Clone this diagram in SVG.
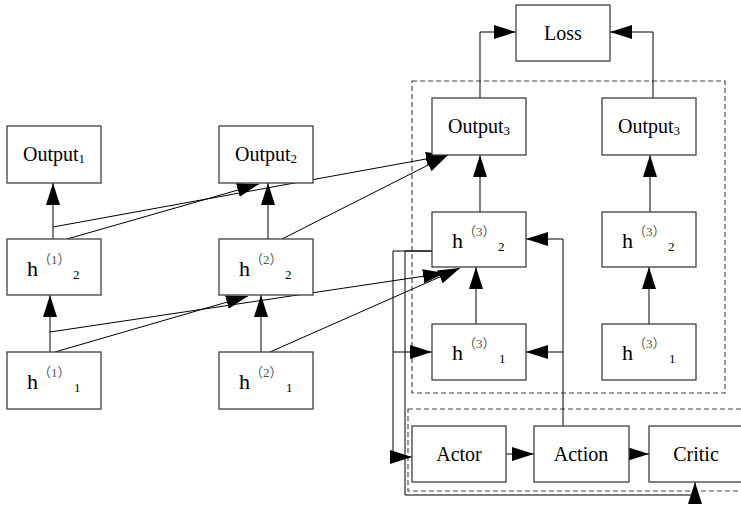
<svg xmlns="http://www.w3.org/2000/svg" width="741" height="508" viewBox="0 0 741 508">
<defs>
<marker id="ah" markerUnits="userSpaceOnUse" markerWidth="22" markerHeight="14" viewBox="0 0 22 14" refX="22" refY="7" orient="auto">
<path d="M0,0 L22,7 L0,14 z" fill="#000"/>
</marker>
<style>
.box{fill:#fff;stroke:#404040;stroke-width:1.3}
.dash{fill:none;stroke:#404040;stroke-width:1.1;stroke-dasharray:5,3}
.c{fill:none;stroke:#000;stroke-width:1;marker-end:url(#ah)}
.t{font-family:"Liberation Serif",serif;font-size:20px;fill:#000;text-anchor:middle}
.h{font-family:"Liberation Serif",serif;font-size:22px;fill:#000}
.sup{font-family:"Liberation Serif","Noto Sans CJK SC",serif;font-size:13px;fill:#555}
.sub{font-family:"Liberation Serif",serif;font-size:13px;fill:#000}
</style>
</defs>
<rect x="0" y="0" width="741" height="508" fill="#fff"/>
<rect class="dash" x="412" y="81" width="313" height="312"/>
<rect class="dash" x="408" y="409" width="340" height="82"/>
<g id="connectors">
<line class="c" x1="50" y1="352" x2="50" y2="295"/>
<line class="c" x1="53" y1="239" x2="53" y2="183"/>
<line class="c" x1="261" y1="352" x2="261" y2="295"/>
<line class="c" x1="268" y1="239" x2="268" y2="183"/>
<line class="c" x1="53" y1="227" x2="448" y2="155"/>
<line class="c" x1="67" y1="239" x2="259" y2="184"/>
<line class="c" x1="50" y1="332" x2="445" y2="273"/>
<line class="c" x1="55" y1="352" x2="248" y2="296"/>
<line class="c" x1="282" y1="239" x2="448" y2="155"/>
<line class="c" x1="270" y1="352" x2="460" y2="268"/>
<line class="c" x1="476" y1="324" x2="476" y2="267"/>
<line class="c" x1="480" y1="212" x2="480" y2="155"/>
<line class="c" x1="649" y1="324" x2="649" y2="267"/>
<line class="c" x1="650" y1="212" x2="650" y2="155"/>
<polyline class="c" points="480,98 480,32 516,32"/>
<polyline class="c" points="653,98 653,32 610,32"/>
<polyline class="c" points="432,251 393,251 393,457 412,457"/>
<line class="c" x1="393" y1="352" x2="432" y2="352"/>
<polyline class="c" points="432,251 405,251 405,495 695,495 695,482"/>
<polyline class="c" points="563,426 563,239 526,239"/>
<line class="c" x1="563" y1="352" x2="526" y2="352"/>
<line class="c" x1="506" y1="454" x2="534" y2="454"/>
<line class="c" x1="629" y1="454" x2="649" y2="454"/>
</g>
<g id="loss"><rect class="box" x="516" y="5" width="94" height="56"/><text class="t" x="563" y="40">Loss</text></g>
<g id="output1"><rect class="box" x="7" y="126" width="94" height="57"/><text class="t" x="54" y="161">Output<tspan font-size="13" dy="2">1</tspan></text></g>
<g id="output2"><rect class="box" x="219" y="126" width="94" height="57"/><text class="t" x="266" y="161">Output<tspan font-size="13" dy="2">2</tspan></text></g>
<g id="output3a"><rect class="box" x="432" y="98" width="94" height="57"/><text class="t" x="479" y="133">Output<tspan font-size="13" dy="2">3</tspan></text></g>
<g id="output3b"><rect class="box" x="602" y="98" width="94" height="57"/><text class="t" x="649" y="133">Output<tspan font-size="13" dy="2">3</tspan></text></g>
<g id="h1_2"><rect class="box" x="7" y="239" width="94" height="56"/><text class="h" x="27" y="276">h</text><text class="sup" x="38" y="264">（1）</text><text class="sub" x="73" y="279">2</text></g>
<g id="h2_2"><rect class="box" x="219" y="239" width="94" height="56"/><text class="h" x="239" y="276">h</text><text class="sup" x="250" y="264">（2）</text><text class="sub" x="285" y="279">2</text></g>
<g id="h1_1"><rect class="box" x="7" y="352" width="94" height="57"/><text class="h" x="27" y="389">h</text><text class="sup" x="38" y="377">（1）</text><text class="sub" x="74" y="392">1</text></g>
<g id="h2_1"><rect class="box" x="219" y="352" width="94" height="57"/><text class="h" x="239" y="389">h</text><text class="sup" x="250" y="377">（2）</text><text class="sub" x="286" y="392">1</text></g>
<g id="h3_2a"><rect class="box" x="432" y="212" width="94" height="55"/><text class="h" x="452" y="248">h</text><text class="sup" x="463" y="236">（3）</text><text class="sub" x="498" y="251">2</text></g>
<g id="h3_1a"><rect class="box" x="432" y="324" width="94" height="56"/><text class="h" x="452" y="360">h</text><text class="sup" x="463" y="348">（3）</text><text class="sub" x="499" y="363">1</text></g>
<g id="h3_2b"><rect class="box" x="602" y="212" width="94" height="55"/><text class="h" x="622" y="248">h</text><text class="sup" x="633" y="236">（3）</text><text class="sub" x="668" y="251">2</text></g>
<g id="h3_1b"><rect class="box" x="602" y="324" width="94" height="56"/><text class="h" x="622" y="360">h</text><text class="sup" x="633" y="348">（3）</text><text class="sub" x="669" y="363">1</text></g>
<g id="actor"><rect class="box" x="412" y="426" width="94" height="56"/><text class="t" x="459" y="461">Actor</text></g>
<g id="action"><rect class="box" x="534" y="426" width="95" height="56"/><text class="t" x="581" y="461">Action</text></g>
<g id="critic"><rect class="box" x="649" y="426" width="94" height="56"/><text class="t" x="696" y="461">Critic</text></g>
</svg>
